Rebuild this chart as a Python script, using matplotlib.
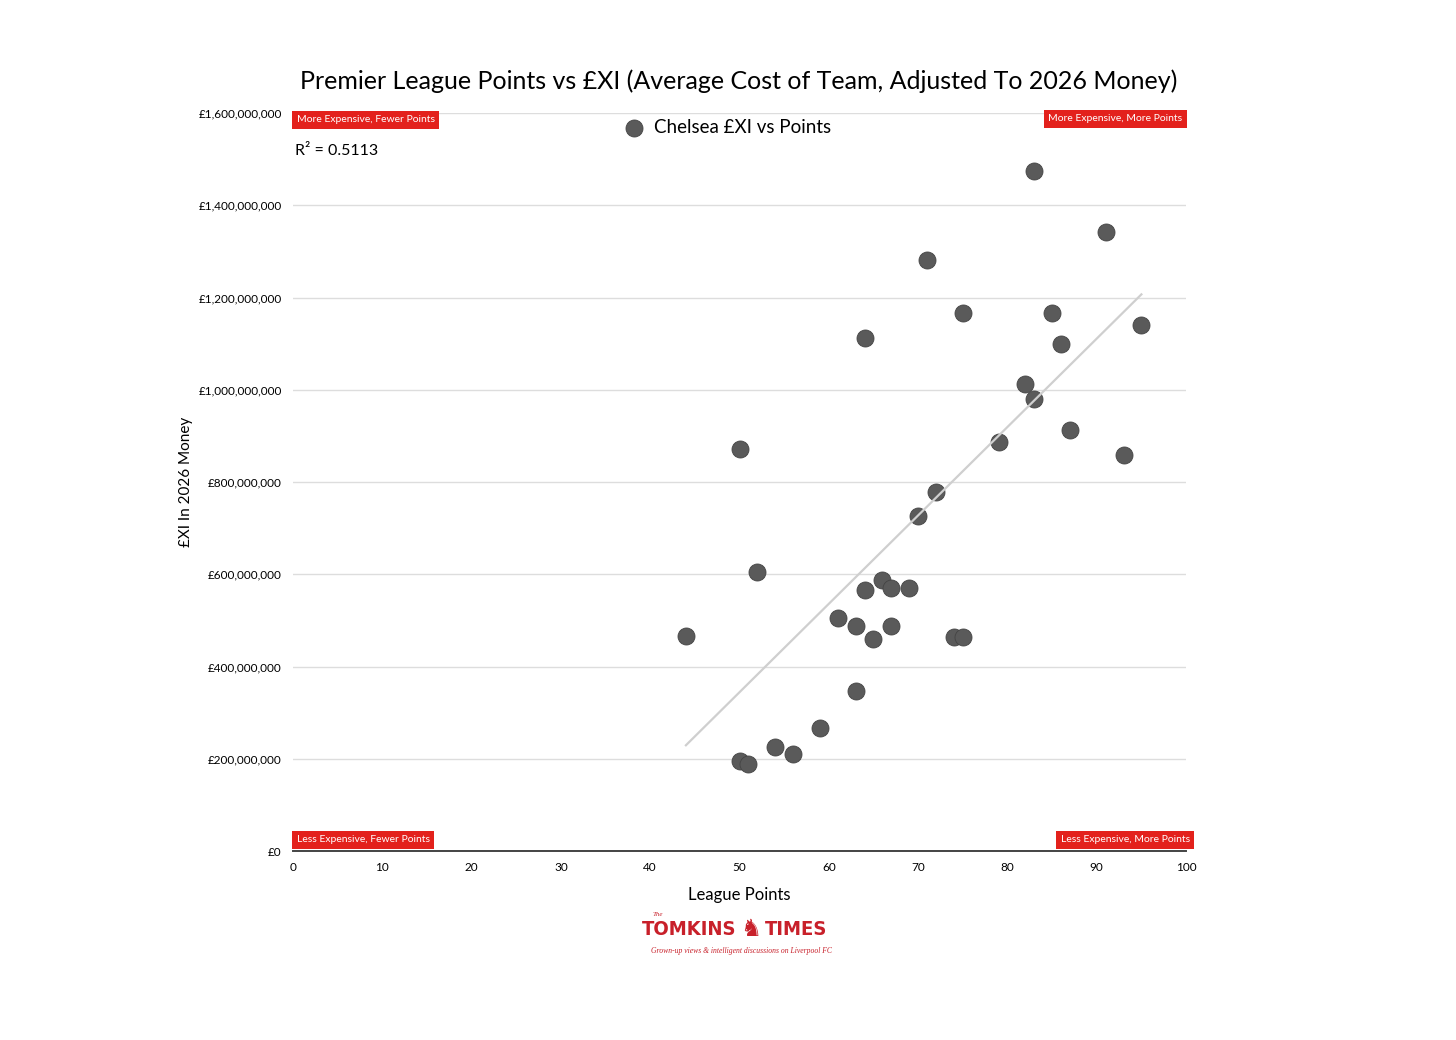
import numpy as np
import matplotlib.pyplot as plt
from matplotlib.ticker import FuncFormatter

# Chelsea league points vs average XI cost (2026 money)
points = [44, 50, 52, 50, 51, 54, 56, 59, 61, 63, 63, 64, 65, 66, 67, 67, 69,
          64, 70, 71, 72, 74, 75, 75, 79, 82, 83, 83, 85, 86, 87, 91, 93, 95]
cost_m = [466, 871, 605, 195, 189, 225, 210, 267, 505, 488, 347, 566, 460, 587,
          570, 488, 570, 1112, 726, 1281, 778, 464, 464, 1166, 887, 1012, 980,
          1474, 1166, 1099, 913, 1342, 859, 1140]
y_ticks = [0, 200e6, 400e6, 600e6, 800e6, 1000e6, 1200e6, 1400e6, 1600e6]
x_ticks = [0, 10, 20, 30, 40, 50, 60, 70, 80, 90, 100]
r_squared = "0.5113"

plt.rcParams['font.family'] = ['Lato', 'DejaVu Sans']

x = np.array(points, dtype=float)
y = np.array(cost_m, dtype=float) * 1e6

fig = plt.figure(figsize=(14.56, 10.4), dpi=100)
ax = fig.add_axes([0.2012, 0.1817, 0.6134, 0.7096])

ax.scatter(x, y, s=150, color="#5a5a5a", edgecolor="#444444", linewidth=0.6,
           zorder=3)

# linear trendline over the data range
slope, intercept = np.polyfit(x, y, 1)
xl = np.array([x.min(), x.max()])
ax.plot(xl, slope * xl + intercept, color="#cfcfcf", linewidth=1.6, zorder=4)

ax.set_xlim(0, 100)
ax.set_ylim(0, 1.6e9)
ax.set_xticks(x_ticks)
ax.set_yticks(y_ticks)
ax.yaxis.set_major_formatter(FuncFormatter(lambda v, p: "£{:,.0f}".format(v)))
ax.tick_params(length=0, labelsize=8.5, pad=8)
ax.grid(axis="y", color="#dddddd", linewidth=1)
ax.set_axisbelow(True)
for s in ["top", "right", "left"]:
    ax.spines[s].set_visible(False)
ax.spines["bottom"].set_color("#444444")
ax.spines["bottom"].set_linewidth(1.4)

ax.set_xlabel("League Points", fontsize=12, labelpad=10)
ax.set_ylabel("£XI In 2026 Money", fontsize=11, labelpad=4)

fig.text(0.5076, 0.922, "Premier League Points vs £XI (Average Cost of Team, Adjusted To 2026 Money)",
         ha="center", va="center", fontsize=18)

# legend
ax.scatter([0.382], [0.98], s=150, color="#5a5a5a", edgecolor="#444444",
           linewidth=0.6, transform=ax.transAxes, clip_on=False)
ax.text(0.404, 0.98, "Chelsea £XI vs Points", transform=ax.transAxes,
        fontsize=13.5, va="center", ha="left")

ax.text(0.002, 0.948, "R² = " + r_squared, transform=ax.transAxes,
        fontsize=11.5, va="center", ha="left")

# quadrant labels
box = dict(boxstyle="square,pad=0.45", facecolor="#e3211c", edgecolor="none")
quad = [
    (0.004, 0.991, "More Expensive, Fewer Points", "left"),
    (0.996, 0.992, "More Expensive, More Points", "right"),
    (0.004, 0.015, "Less Expensive, Fewer Points", "left"),
    (1.004, 0.015, "Less Expensive, More Points", "right"),
]
for qx, qy, label, ha in quad:
    ax.text(qx, qy, label, transform=ax.transAxes, fontsize=7.5,
            color="white", ha=ha, va="center", bbox=box, zorder=5)

# logo
logo_red = "#c8202a"
fig.text(0.506, 0.106, "TOMKINS", fontsize=14.5, fontweight="bold",
         fontstretch="condensed", color=logo_red, ha="right", va="center",
         family="DejaVu Sans")
fig.text(0.525, 0.106, "TIMES", fontsize=14.5, fontweight="bold",
         fontstretch="condensed", color=logo_red, ha="left", va="center",
         family="DejaVu Sans")
fig.text(0.5155, 0.107, "♞", fontsize=17, color=logo_red, ha="center",
         va="center", family="DejaVu Sans")
fig.text(0.4485, 0.121, "The", fontsize=5, style="italic", color=logo_red,
         ha="left", va="center", family="Liberation Serif")
fig.text(0.509, 0.0856, "Grown-up views & intelligent discussions on Liverpool FC",
         fontsize=5.5, style="italic", color=logo_red, ha="center", va="center",
         family="Liberation Serif")

fig.savefig("out.png", dpi=100, facecolor="white")
